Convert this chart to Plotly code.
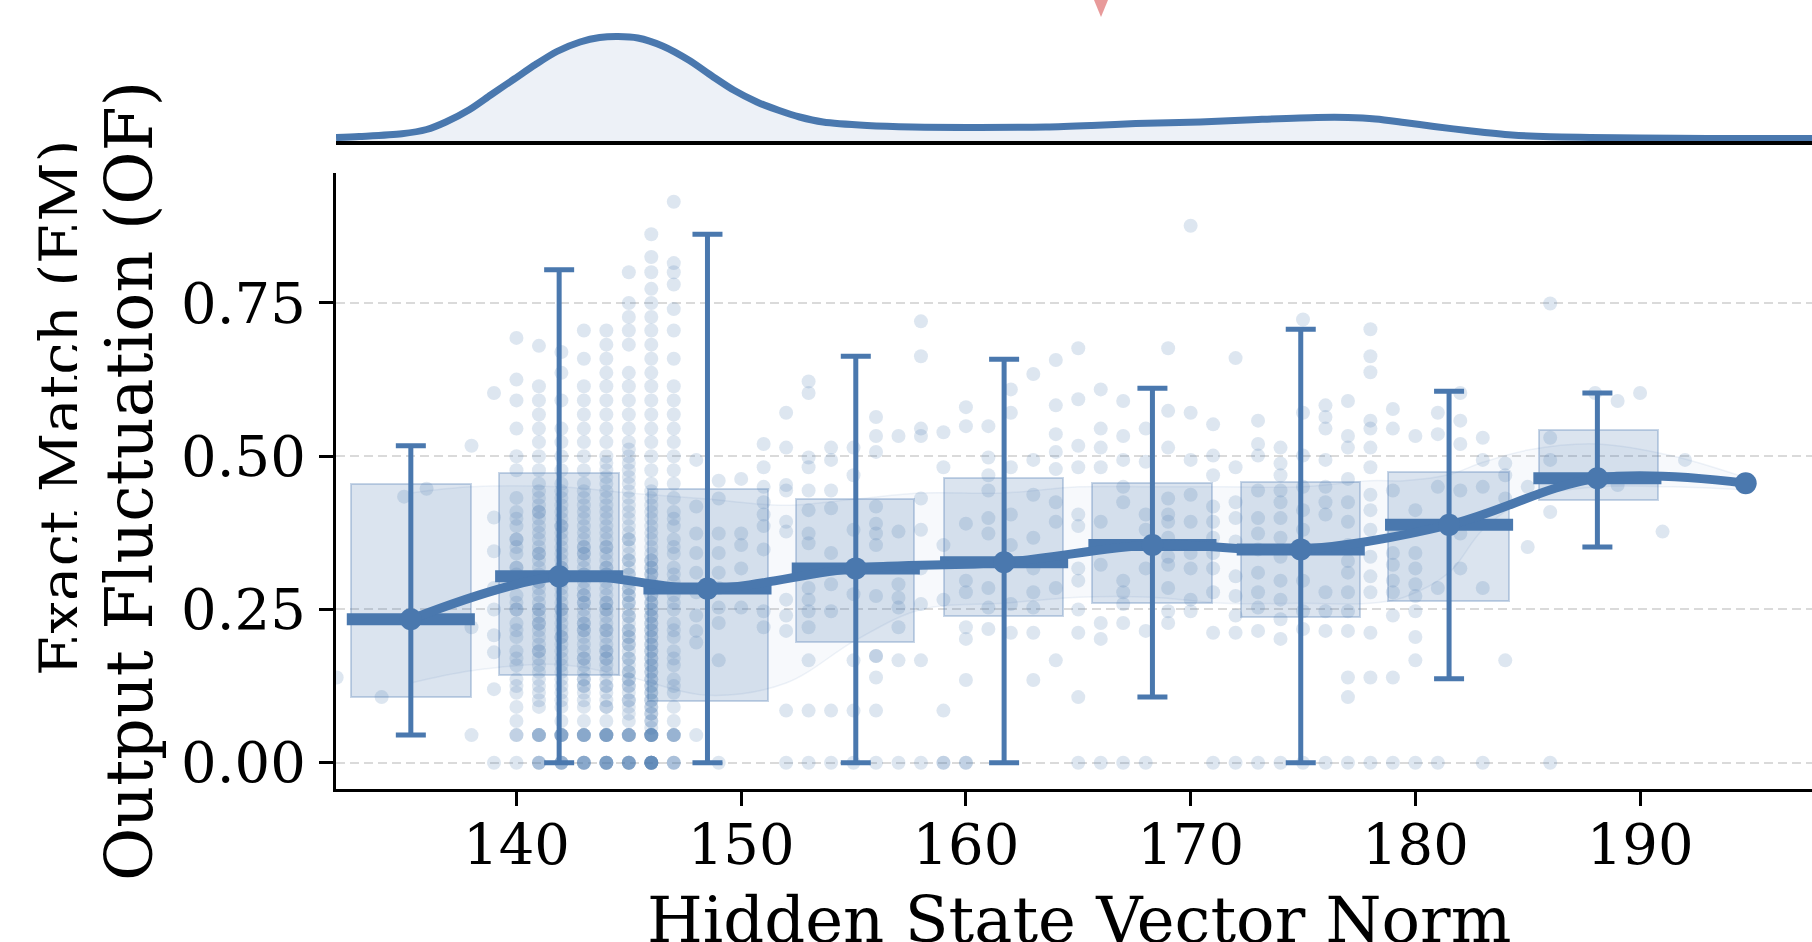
import plotly.graph_objects as go

# ---------------- data ----------------
# top marginal: density of hidden-state vector norm
kde_x = [131.97, 133.0, 134.9, 136.0, 136.86, 137.9, 138.87, 139.9, 140.85, 141.8, 142.83, 143.7,
         144.52, 145.4, 146.5, 147.68, 148.7, 149.68, 150.7, 151.66, 152.6, 153.64, 155.6, 157.62,
         160.6, 163.56, 165.6, 167.56, 170.42, 173.0, 175.62, 177.0, 178.23, 179.5, 180.83, 182.5,
         184.3, 186.0, 187.77, 190.0, 193.0, 197.65]
kde_density = [0.00136, 0.0018, 0.0029, 0.0046, 0.0076, 0.0125, 0.0185, 0.0248, 0.0306, 0.0358,
               0.0396, 0.0414, 0.0418, 0.0412, 0.0380, 0.03228, 0.026, 0.02028, 0.0156, 0.01228,
               0.0096, 0.0076, 0.0062, 0.0056, 0.00544, 0.0056, 0.0062, 0.00696, 0.0076, 0.0086,
               0.0094, 0.0094, 0.0088, 0.0074, 0.0058, 0.004, 0.0024, 0.00168, 0.00144, 0.0012,
               0.00104, 0.00096]

# binned summaries
bin_x = [135.3, 141.9, 148.5, 155.1, 161.7, 168.3, 174.9, 181.5, 188.1]
bin_mean = [0.234, 0.304, 0.284, 0.317, 0.327, 0.355, 0.348, 0.388, 0.464]
err_low = [0.045, 0.0, 0.0, 0.0, 0.0, 0.107, 0.0, 0.137, 0.352]
err_high = [0.517, 0.804, 0.862, 0.663, 0.658, 0.611, 0.707, 0.606, 0.603]
box_left = [132.63, 139.23, 145.84, 152.44, 159.04, 165.61, 172.24, 178.77, 185.52]
box_right = [137.97, 144.58, 151.18, 157.70, 164.31, 170.95, 177.54, 184.16, 190.79]
box_low = [0.108, 0.143, 0.100, 0.197, 0.240, 0.261, 0.237, 0.264, 0.428]
box_high = [0.454, 0.472, 0.447, 0.431, 0.464, 0.456, 0.458, 0.474, 0.542]
mean_bar_span = [5.7, 5.7, 5.7, 5.7, 5.7, 5.7, 5.7, 5.7, 5.7]

trend_x = [135.3, 141.9, 148.5, 155.1, 161.7, 168.3, 174.9, 181.5, 188.1, 194.7]
trend_y = [0.234, 0.304, 0.284, 0.317, 0.327, 0.355, 0.348, 0.388, 0.464, 0.456]

# faint smoothed band
band_x = [135.3, 138.0, 141.9, 145.0, 148.5, 152.0, 155.1, 158.0, 161.7, 165.0, 168.3, 171.5,
          174.9, 178.0, 179.5, 181.5, 183.0, 185.0, 188.1, 191.5, 194.7]
band_low = [0.13, 0.15, 0.16, 0.14, 0.11, 0.13, 0.20, 0.25, 0.26, 0.27, 0.27, 0.26,
            0.26, 0.26, 0.27, 0.31, 0.38, 0.43, 0.45, 0.45, 0.445]
band_high = [0.44, 0.45, 0.45, 0.44, 0.43, 0.42, 0.43, 0.44, 0.44, 0.45, 0.45, 0.45,
             0.45, 0.46, 0.46, 0.47, 0.49, 0.51, 0.52, 0.50, 0.465]

# individual samples, one list per (rounded) norm value
col_132 = [0.139]
col_134 = [0.107]
col_135 = [0.434]
col_136 = [0.447]
col_138 = [0.045, 0.221, 0.517]
col_139 = [0.0, 0.12, 0.18, 0.208, 0.25, 0.285, 0.345, 0.40, 0.603]
col_140 = [0.0, 0.045, 0.045, 0.068, 0.091, 0.114, 0.125, 0.136, 0.159, 0.17, 0.182, 0.205, 0.216,
           0.227, 0.25, 0.25, 0.261, 0.273, 0.295, 0.307, 0.318, 0.318, 0.341, 0.352, 0.364,
           0.364, 0.386, 0.398, 0.409, 0.432, 0.477, 0.5, 0.545, 0.591, 0.625, 0.693]
col_141 = [0.0, 0.0, 0.0, 0.045, 0.045, 0.045, 0.045, 0.091, 0.102, 0.114, 0.125, 0.136, 0.148,
           0.159, 0.17, 0.182, 0.182, 0.193, 0.205, 0.216, 0.227, 0.227, 0.239, 0.25, 0.25, 0.261,
           0.273, 0.284, 0.295, 0.295, 0.307, 0.318, 0.33, 0.341, 0.341, 0.352, 0.364, 0.375,
           0.386, 0.398, 0.409, 0.409, 0.42, 0.432, 0.443, 0.455, 0.477, 0.5, 0.523, 0.545, 0.568,
           0.591, 0.614, 0.68]
col_142 = [0.0, 0.0, 0.0, 0.0, 0.045, 0.045, 0.045, 0.045, 0.045, 0.068, 0.091, 0.102, 0.114,
           0.125, 0.136, 0.148, 0.159, 0.17, 0.182, 0.193, 0.205, 0.205, 0.216, 0.227, 0.239,
           0.25, 0.25, 0.261, 0.273, 0.284, 0.295, 0.307, 0.318, 0.318, 0.33, 0.341, 0.352,
           0.364, 0.375, 0.386, 0.386, 0.398, 0.409, 0.42, 0.432, 0.443, 0.455, 0.477, 0.5, 0.523,
           0.545, 0.591, 0.636, 0.67]
col_143 = [0.0, 0.0, 0.0, 0.0, 0.0, 0.045, 0.045, 0.045, 0.045, 0.045, 0.068, 0.091, 0.102,
           0.114, 0.125, 0.125, 0.136, 0.136, 0.148, 0.159, 0.17, 0.17, 0.182, 0.193, 0.205,
           0.216, 0.216, 0.227, 0.227, 0.239, 0.25, 0.261, 0.261, 0.273, 0.273, 0.284, 0.295,
           0.307, 0.307, 0.318, 0.33, 0.341, 0.341, 0.352, 0.352, 0.364, 0.375, 0.386, 0.398,
           0.409, 0.42, 0.432, 0.443, 0.455, 0.477, 0.5, 0.523, 0.545, 0.568, 0.591, 0.614,
           0.659, 0.705]
col_144 = [0.0, 0.0, 0.0, 0.0, 0.0, 0.0, 0.045, 0.045, 0.045, 0.045, 0.045, 0.045, 0.068, 0.091,
           0.091, 0.102, 0.114, 0.125, 0.125, 0.136, 0.148, 0.159, 0.17, 0.17, 0.182, 0.182,
           0.193, 0.205, 0.216, 0.216, 0.227, 0.239, 0.25, 0.25, 0.261, 0.261, 0.273, 0.284,
           0.295, 0.307, 0.307, 0.318, 0.318, 0.33, 0.341, 0.352, 0.352, 0.364, 0.375, 0.386,
           0.398, 0.409, 0.42, 0.432, 0.443, 0.455, 0.466, 0.477, 0.489, 0.5, 0.523, 0.545,
           0.568, 0.591, 0.614, 0.636, 0.659, 0.682, 0.705]
col_145 = [0.0, 0.0, 0.0, 0.0, 0.0, 0.0, 0.045, 0.045, 0.045, 0.045, 0.045, 0.068, 0.08, 0.091,
           0.102, 0.102, 0.114, 0.125, 0.125, 0.136, 0.136, 0.148, 0.148, 0.159, 0.17, 0.17,
           0.182, 0.193, 0.193, 0.205, 0.205, 0.216, 0.216, 0.227, 0.239, 0.239, 0.25, 0.261,
           0.261, 0.273, 0.273, 0.284, 0.284, 0.295, 0.307, 0.307, 0.318, 0.33, 0.33, 0.341,
           0.352, 0.364, 0.364, 0.375, 0.386, 0.398, 0.409, 0.42, 0.432, 0.443, 0.455, 0.466,
           0.477, 0.489, 0.5, 0.511, 0.523, 0.545, 0.568, 0.591, 0.614, 0.636, 0.682, 0.705,
           0.727, 0.75, 0.80]
col_146 = [0.0, 0.0, 0.0, 0.0, 0.0, 0.0, 0.0, 0.0, 0.0, 0.045, 0.045, 0.045, 0.045, 0.045, 0.045,
           0.045, 0.057, 0.068, 0.068, 0.08, 0.08, 0.091, 0.091, 0.102, 0.102, 0.114, 0.114,
           0.125, 0.125, 0.136, 0.136, 0.148, 0.148, 0.159, 0.159, 0.17, 0.17, 0.182, 0.182,
           0.193, 0.193, 0.205, 0.205, 0.216, 0.216, 0.227, 0.227, 0.239, 0.239, 0.25, 0.25,
           0.261, 0.261, 0.273, 0.273, 0.284, 0.284, 0.295, 0.307, 0.307, 0.318, 0.318, 0.33,
           0.33, 0.341, 0.352, 0.364, 0.375, 0.386, 0.398, 0.409, 0.42, 0.432, 0.443, 0.455,
           0.477, 0.5, 0.523, 0.545, 0.568, 0.591, 0.614, 0.636, 0.659, 0.682, 0.705, 0.727,
           0.75, 0.773, 0.80, 0.825, 0.862]
col_147 = [0.0, 0.0, 0.0, 0.045, 0.045, 0.045, 0.045, 0.068, 0.091, 0.114, 0.125, 0.136, 0.159,
           0.17, 0.182, 0.205, 0.216, 0.227, 0.25, 0.261, 0.273, 0.295, 0.307, 0.318, 0.341,
           0.352, 0.364, 0.386, 0.398, 0.409, 0.432, 0.455, 0.477, 0.5, 0.523, 0.545, 0.568,
           0.591, 0.614, 0.659, 0.705, 0.74, 0.78, 0.80, 0.815, 0.915]
col_148 = [0.045, 0.196, 0.215, 0.24, 0.278, 0.31, 0.342, 0.374, 0.418, 0.494]
col_149 = [0.0, 0.167, 0.228, 0.253, 0.285, 0.31, 0.342, 0.374, 0.431, 0.46]
col_150 = [0.253, 0.317, 0.355, 0.374, 0.463]
col_151 = [0.221, 0.247, 0.348, 0.386, 0.405, 0.425, 0.45, 0.482, 0.52]
col_152 = [0.0, 0.085, 0.215, 0.24, 0.266, 0.377, 0.393, 0.444, 0.453, 0.514, 0.571]
col_153 = [0.0, 0.085, 0.167, 0.221, 0.247, 0.266, 0.285, 0.358, 0.374, 0.412, 0.444, 0.482,
           0.498, 0.603, 0.622]
col_154 = [0.0, 0.085, 0.247, 0.291, 0.342, 0.415, 0.444, 0.494, 0.514]
col_155 = [0.0, 0.085, 0.167, 0.275, 0.31, 0.38, 0.469, 0.514]
col_156 = [0.0, 0.085, 0.139, 0.174, 0.174, 0.272, 0.355, 0.374, 0.39, 0.418, 0.507, 0.533, 0.564]
col_157 = [0.0, 0.167, 0.221, 0.253, 0.269, 0.291, 0.377, 0.533]
col_158 = [0.0, 0.167, 0.259, 0.317, 0.38, 0.431, 0.533, 0.545, 0.663, 0.72]
col_159 = [0.0, 0.0, 0.085, 0.266, 0.355, 0.482, 0.539]
col_160 = [0.0, 0.0, 0.135, 0.202, 0.221, 0.278, 0.297, 0.39, 0.549, 0.58]
col_161 = [0.218, 0.253, 0.285, 0.374, 0.399, 0.444, 0.469, 0.498, 0.549]
col_162 = [0.212, 0.259, 0.355, 0.405, 0.482, 0.571, 0.609]
col_163 = [0.135, 0.212, 0.253, 0.278, 0.317, 0.367, 0.437, 0.494, 0.634]
col_164 = [0.167, 0.285, 0.393, 0.425, 0.479, 0.507, 0.536, 0.583, 0.657]
col_165 = [0.0, 0.107, 0.212, 0.25, 0.297, 0.317, 0.386, 0.405, 0.482, 0.517, 0.593, 0.676]
col_166 = [0.0, 0.202, 0.228, 0.323, 0.393, 0.482, 0.514, 0.545, 0.609]
col_167 = [0.0, 0.228, 0.259, 0.278, 0.297, 0.425, 0.45, 0.494, 0.533, 0.59]
col_168 = [0.0, 0.215, 0.317, 0.38, 0.405, 0.491, 0.545]
col_169 = [0.228, 0.247, 0.285, 0.323, 0.336, 0.367, 0.393, 0.405, 0.431, 0.514, 0.574, 0.676]
col_170 = [0.247, 0.266, 0.317, 0.342, 0.393, 0.437, 0.494, 0.571, 0.876]
col_171 = [0.0, 0.212, 0.278, 0.317, 0.342, 0.367, 0.393, 0.418, 0.469, 0.501, 0.552]
col_172 = [0.0, 0.212, 0.24, 0.272, 0.304, 0.361, 0.399, 0.425, 0.482, 0.66]
col_173 = [0.0, 0.215, 0.253, 0.278, 0.31, 0.348, 0.374, 0.399, 0.444, 0.501, 0.52, 0.558]
col_174 = [0.0, 0.202, 0.234, 0.266, 0.297, 0.336, 0.367, 0.399, 0.425, 0.444, 0.469, 0.488, 0.514]
col_175 = [0.0, 0.218, 0.247, 0.297, 0.38, 0.412, 0.45, 0.501, 0.571, 0.723]
col_176 = [0.0, 0.215, 0.247, 0.278, 0.405, 0.425, 0.45, 0.494, 0.545, 0.564, 0.583]
col_177 = [0.0, 0.107, 0.139, 0.215, 0.247, 0.278, 0.31, 0.329, 0.355, 0.393, 0.425, 0.463,
           0.514, 0.533, 0.59]
col_178 = [0.0, 0.139, 0.212, 0.278, 0.304, 0.336, 0.38, 0.412, 0.437, 0.482, 0.514, 0.545,
           0.558, 0.637, 0.663, 0.707]
col_179 = [0.0, 0.139, 0.24, 0.278, 0.297, 0.323, 0.342, 0.38, 0.444, 0.545, 0.577]
col_180 = [0.0, 0.167, 0.205, 0.247, 0.272, 0.291, 0.317, 0.342, 0.38, 0.412, 0.533]
col_181 = [0.0, 0.285, 0.45, 0.536, 0.571]
col_182 = [0.317, 0.374, 0.444, 0.52, 0.558, 0.603]
col_183 = [0.0, 0.285, 0.45, 0.494, 0.53]
col_184 = [0.167, 0.431, 0.469, 0.488]
col_185 = [0.352, 0.45]
col_186 = [0.0, 0.409, 0.494, 0.53, 0.749]
col_188 = [0.603]
col_189 = [0.453, 0.59]
col_190 = [0.603]
col_191 = [0.377]
col_192 = [0.494]

sample_norms = [132, 134, 135, 136, 138, 139, 140, 141, 142, 143, 144, 145, 146, 147, 148, 149,
                150, 151, 152, 153, 154, 155, 156, 157, 158, 159, 160, 161, 162, 163, 164, 165,
                166, 167, 168, 169, 170, 171, 172, 173, 174, 175, 176, 177, 178, 179, 180, 181,
                182, 183, 184, 185, 186, 188, 189, 190, 191, 192]
sample_cols = [col_132, col_134, col_135, col_136, col_138, col_139, col_140, col_141, col_142,
               col_143, col_144, col_145, col_146, col_147, col_148, col_149, col_150, col_151,
               col_152, col_153, col_154, col_155, col_156, col_157, col_158, col_159, col_160,
               col_161, col_162, col_163, col_164, col_165, col_166, col_167, col_168, col_169,
               col_170, col_171, col_172, col_173, col_174, col_175, col_176, col_177, col_178,
               col_179, col_180, col_181, col_182, col_183, col_184, col_185, col_186, col_188,
               col_189, col_190, col_191, col_192]

x_ticks = [140, 150, 160, 170, 180, 190]
y_ticks = [0.0, 0.25, 0.5, 0.75]

# ---------------- styling ----------------
BLUE = "#4A78AE"
FONT = "DejaVu Serif"

pts_x, pts_y = [], []
for xv, ys in zip(sample_norms, sample_cols):
    for yv in ys:
        pts_x.append(xv)
        pts_y.append(yv)

fig = go.Figure()

# top KDE
fig.add_trace(go.Scatter(x=kde_x, y=kde_density, mode="lines",
                         line=dict(color=BLUE, width=7, shape="spline", smoothing=0.8),
                         fill="tozeroy", fillcolor="rgba(74,120,174,0.10)",
                         xaxis="x2", yaxis="y2", hoverinfo="skip"))

# boxes
fig.add_trace(go.Bar(x=[(a + b) / 2 for a, b in zip(box_left, box_right)],
                     y=[h - l for l, h in zip(box_low, box_high)],
                     base=box_low,
                     width=[b - a for a, b in zip(box_left, box_right)],
                     marker=dict(color="rgba(74,120,174,0.20)",
                                 line=dict(color="rgba(74,120,174,0.30)", width=2)),
                     xaxis="x", yaxis="y", hoverinfo="skip"))

# faint band
fig.add_trace(go.Scatter(x=band_x, y=band_low, mode="lines",
                         line=dict(color="rgba(74,120,174,0.09)", width=1.5, shape="spline"),
                         hoverinfo="skip"))
fig.add_trace(go.Scatter(x=band_x, y=band_high, mode="lines",
                         line=dict(color="rgba(74,120,174,0.09)", width=1.5, shape="spline"),
                         fill="tonexty", fillcolor="rgba(74,120,174,0.045)", hoverinfo="skip"))

# samples
fig.add_trace(go.Scatter(x=pts_x, y=pts_y, mode="markers",
                         marker=dict(size=14, color="rgba(74,120,174,0.19)", line=dict(width=0)),
                         hoverinfo="skip"))

# error bars
fig.add_trace(go.Scatter(x=bin_x, y=bin_mean, mode="markers",
                         marker=dict(size=1, color="rgba(0,0,0,0)"),
                         error_y=dict(type="data", symmetric=False,
                                      array=[h - m for m, h in zip(bin_mean, err_high)],
                                      arrayminus=[m - l for m, l in zip(bin_mean, err_low)],
                                      color=BLUE, thickness=5, width=15),
                         hoverinfo="skip"))

# thick mean bars
fig.add_trace(go.Scatter(x=bin_x, y=bin_mean, mode="markers",
                         marker=dict(size=1, color="rgba(0,0,0,0)"),
                         error_x=dict(type="data", array=[s / 2 for s in mean_bar_span],
                                      color=BLUE, thickness=12, width=0),
                         hoverinfo="skip"))

# trend line
fig.add_trace(go.Scatter(x=trend_x, y=trend_y, mode="lines+markers",
                         line=dict(color=BLUE, width=9, shape="spline", smoothing=1.0),
                         marker=dict(size=22, color=BLUE),
                         hoverinfo="skip"))

W, H = 1812, 942
ML, MB = 336, 153
PW, PH = W - ML, H - MB


def px_x(p):
    return (p - ML) / PW


def px_y(p):
    return (PH - p) / PH


axis_font = dict(family=FONT, size=56, color="black")

fig.update_layout(
    width=W, height=H,
    margin=dict(l=ML, r=0, t=0, b=MB, pad=0),
    paper_bgcolor="white", plot_bgcolor="white",
    showlegend=False,
    font=dict(family=FONT, color="black"),
    xaxis=dict(domain=[0, 1], anchor="y", range=[131.97, 197.65],
               tickvals=x_ticks, ticks="outside", ticklen=14, tickwidth=3, tickcolor="black",
               showline=True, linewidth=3, linecolor="black", showgrid=False, zeroline=False,
               tickfont=axis_font, ticklabelstandoff=-9),
    yaxis=dict(domain=[0, px_y(173)], anchor="x", range=[-0.0429, 0.962],
               tickvals=y_ticks, tickformat=".2f", ticks="outside", ticklen=14, tickwidth=3,
               tickcolor="black", showline=True, linewidth=3, linecolor="black",
               showgrid=True, gridcolor="#DADADA", gridwidth=1.5, griddash="9px,5px",
               zeroline=False, tickfont=axis_font, ticklabelstandoff=2),
    xaxis2=dict(domain=[0, 1], anchor="y2", matches="x", showline=True, linewidth=4,
                linecolor="black", showticklabels=False, ticks="", showgrid=False, zeroline=False),
    yaxis2=dict(domain=[px_y(141), 1], anchor="x2", range=[0, 0.0564], visible=False),
    bargap=0,
)

fig.add_annotation(text="Hidden State Vector Norm", xref="paper", yref="paper",
                   x=px_x(1079), y=px_y(920), xanchor="center", yanchor="middle",
                   showarrow=False, font=dict(family=FONT, size=64, color="black"))
fig.add_annotation(text="Exact Match (EM)", xref="paper", yref="paper",
                   x=px_x(61), y=px_y(408), xanchor="center", yanchor="middle", textangle=-90,
                   showarrow=False, font=dict(family=FONT, size=58, color="black"))
fig.add_annotation(text=" ", xref="paper", yref="paper", x=px_x(91), y=px_y(400),
                   xanchor="center", yanchor="middle", width=28, height=620,
                   bgcolor="white", borderpad=0, borderwidth=0, showarrow=False)
fig.add_annotation(text="Output Fluctuation (OF)", xref="paper", yref="paper",
                   x=px_x(130), y=px_y(481), xanchor="center", yanchor="middle", textangle=-90,
                   showarrow=False, font=dict(family=FONT, size=65, color="black"))

# partial marker cut off at the top edge
fig.add_shape(type="path", xref="paper", yref="paper",
              path=f"M {px_x(1094)} {px_y(0)} L {px_x(1108)} {px_y(0)} L {px_x(1101)} {px_y(17)} Z",
              fillcolor="#E89A9A", line=dict(width=0))

fig.write_html("out.html", config={"displayModeBar": False},
               post_script="document.body.style.margin='0';document.body.style.overflow='hidden';")
